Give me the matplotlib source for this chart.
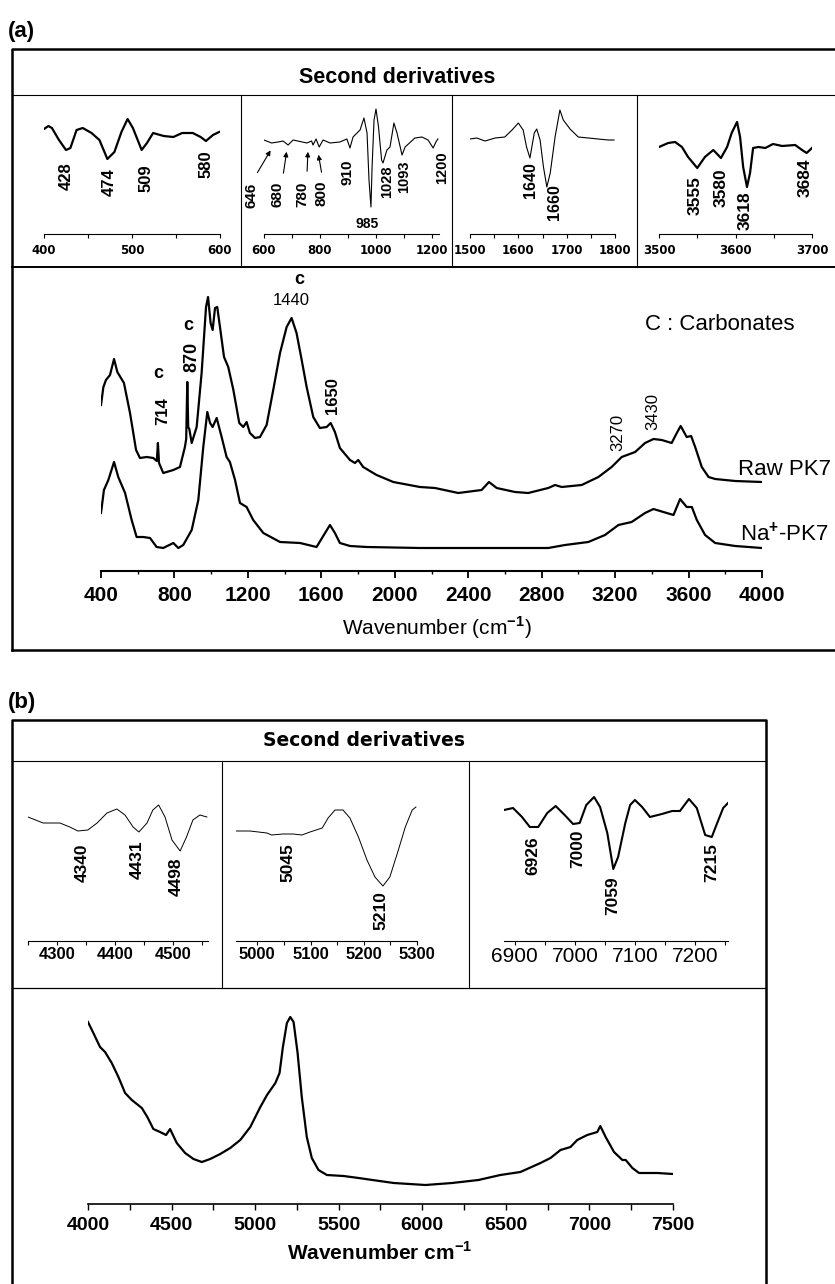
import matplotlib
matplotlib.use('Agg')
import matplotlib.pyplot as plt
from matplotlib.lines import Line2D
from matplotlib.patches import FancyArrowPatch

plt.rcParams['font.family'] = ['Liberation Sans', 'DejaVu Sans']
plt.rcParams['mathtext.fontset'] = 'custom'
plt.rcParams['mathtext.rm'] = 'Liberation Sans'
plt.rcParams['mathtext.bf'] = 'Liberation Sans:bold'

# ---------------- (a) MIR spectra (wavenumber cm-1 / absorbance a.u.)
raw_wn = [400, 413, 427, 449, 471, 489, 525, 558, 591, 612, 649, 685, 704, 710, 716, 739, 794, 830,
          857, 864, 870, 875, 881, 894, 921, 948, 972, 983, 997, 1008, 1021, 1033, 1048, 1070, 1093,
          1121, 1153, 1175, 1193, 1211, 1239, 1266, 1302, 1338, 1375, 1411, 1438, 1465, 1493, 1520,
          1556, 1592, 1629, 1651, 1674, 1701, 1756, 1783, 1801, 1828, 1901, 1992, 2137, 2219, 2346,
          2473, 2513, 2555, 2655, 2727, 2836, 2873, 2909, 3018, 3109, 3181, 3236, 3309, 3363, 3409,
          3454, 3508, 3536, 3557, 3590, 3614, 3636, 3672, 3709, 3745, 3854, 3999]
raw_abs = [1.66, 1.84, 1.91, 1.96, 2.12, 1.99, 1.88, 1.58, 1.21, 1.13, 1.14, 1.13, 1.10, 1.28, 1.08, 0.98, 1.01, 1.04,
           1.24, 1.32, 1.89, 1.44, 1.42, 1.28, 1.44, 1.98, 2.64, 2.74, 2.48, 2.41, 2.63, 2.64, 2.44, 2.14, 2.04,
           1.81, 1.48, 1.44, 1.49, 1.38, 1.33, 1.34, 1.46, 1.81, 2.18, 2.44, 2.53, 2.38, 2.11, 1.84,
           1.54, 1.43, 1.44, 1.48, 1.39, 1.23, 1.11, 1.08, 1.11, 1.04, 0.96, 0.89, 0.84, 0.83, 0.78,
           0.81, 0.89, 0.83, 0.79, 0.78, 0.83, 0.86, 0.84, 0.86, 0.94, 1.04, 1.14, 1.19, 1.28, 1.32,
           1.31, 1.28, 1.38, 1.45, 1.34, 1.35, 1.24, 1.04, 0.94, 0.92, 0.90, 0.89]

na_wn = [400, 416, 440, 471, 494, 531, 567, 594, 630, 667, 703, 739, 794, 821, 848, 894, 930, 957, 979,
         994, 1008, 1030, 1057, 1084, 1102, 1130, 1157, 1193, 1229, 1284, 1375, 1484, 1574, 1607, 1647,
         1674, 1701, 1756, 1847, 2137, 2836, 2927, 3054, 3145, 3218, 3290, 3363, 3409, 3463, 3518,
         3554, 3590, 3618, 3645, 3690, 3745, 3854, 3999]
na_abs = [0.58, 0.81, 0.91, 1.09, 0.94, 0.78, 0.51, 0.34, 0.34, 0.33, 0.24, 0.23, 0.28, 0.23, 0.26, 0.41, 0.71, 1.24, 1.59,
          1.48, 1.44, 1.53, 1.34, 1.14, 1.09, 0.91, 0.68, 0.64, 0.51, 0.38, 0.29, 0.28, 0.24, 0.34, 0.46,
          0.38, 0.28, 0.25, 0.24, 0.23, 0.23, 0.26, 0.29, 0.36, 0.46, 0.49, 0.58, 0.62, 0.59, 0.56,
          0.72, 0.64, 0.64, 0.51, 0.36, 0.28, 0.25, 0.23]

# second derivatives (a)
d1_wn = [400, 405, 409, 417, 425, 430, 437, 444, 454, 463, 472, 480, 488, 495, 501, 511, 517, 524,
         536, 547, 557, 569, 578, 584, 592, 599]
d1_val = [1.1, 1.4, 1.2, 0.0, -1.0, -0.8, 1.0, 1.2, 0.7, 0.0, -1.9, -1.2, 0.8, 2.1, 1.2, -1.0, -0.3, 0.7,
          0.4, 0.3, 0.7, 0.7, 0.3, -0.1, 0.5, 0.8]

d2_wn = [600, 627, 650, 668, 686, 704, 753, 770, 775, 786, 797, 811, 836, 871, 896, 907, 918, 943, 957,
         968, 975, 982, 986, 993, 1000, 1009, 1020, 1025, 1039, 1050, 1064, 1075, 1093, 1104, 1139,
         1164, 1186, 1204, 1214, 1221]
d2_val = [0.0, -0.3, -0.2, -0.1, -0.5, 0.0, -0.3, -0.1, -0.5, 0.1, -0.7, 0.0, -0.3, -0.2, 0.1, -0.8, 0.3, 1.0, 2.2,
          0.7, -4.0, -6.7, -2.7, 2.0, 3.1, 1.3, -2.0, -2.3, -1.0, -0.7, 1.7, 0.7, -1.5, -0.7, 0.2,
          0.3, 0.0, -0.8, -0.2, 0.1]

d3_wn = [1500, 1514, 1531, 1552, 1572, 1587, 1600, 1610, 1617, 1624, 1633, 1638, 1645, 1652, 1659, 1666,
         1676, 1686, 1693, 1707, 1724, 1745, 1765, 1786, 1798]
d3_val = [0.1, 0.2, -0.1, 0.2, 0.3, 1.0, 1.7, 1.0, -0.7, -1.8, 0.7, 1.1, 0.0, -2.7, -4.7, -3.3,
          0.3, 3.0, 2.0, 1.1, 0.3, 0.2, 0.1, 0.0, 0.0]

d4_wn = [3500, 3512, 3521, 3530, 3538, 3550, 3560, 3571, 3581, 3589, 3595, 3602, 3606, 3610, 3615, 3619,
         3623, 3630, 3639, 3649, 3661, 3678, 3687, 3693, 3700]
d4_val = [-0.7, -0.3, -0.2, -0.7, -1.7, -2.8, -1.7, -1.0, -1.8, -0.7, 0.7, 1.8, 0.3, -2.7, -4.7, -3.3,
          -0.8, -0.7, -0.8, -0.4, -0.6, -0.5, -1.0, -1.3, -0.8]

# ---------------- (b) NIR spectrum
nir_wn = [4000, 4032, 4072, 4102, 4142, 4182, 4222, 4262, 4322, 4355, 4391, 4431, 4467, 4491, 4531, 4581,
          4631, 4681, 4731, 4791, 4851, 4911, 4971, 5031, 5071, 5121, 5146, 5166, 5190, 5210, 5230,
          5254, 5279, 5309, 5339, 5379, 5429, 5529, 5619, 5702, 5829, 6019, 6178, 6336, 6467, 6587,
          6707, 6767, 6827, 6887, 6927, 6987, 7047, 7065, 7097, 7147, 7197, 7217, 7227, 7257, 7297,
          7407, 7500]
nir_abs = [1.82, 1.71, 1.57, 1.52, 1.41, 1.27, 1.11, 1.04, 0.96, 0.87, 0.75, 0.72, 0.69, 0.75, 0.61, 0.51,
           0.45, 0.42, 0.45, 0.50, 0.56, 0.64, 0.77, 0.97, 1.09, 1.21, 1.31, 1.57, 1.81, 1.87, 1.82,
           1.51, 1.07, 0.67, 0.46, 0.34, 0.29, 0.28, 0.26, 0.24, 0.21, 0.19, 0.21, 0.24, 0.29, 0.32,
           0.41, 0.46, 0.54, 0.57, 0.64, 0.69, 0.72, 0.78, 0.67, 0.52, 0.44, 0.44, 0.42, 0.36, 0.31,
           0.31, 0.30]

e1_wn = [4250, 4276, 4305, 4322, 4336, 4353, 4369, 4386, 4403, 4417, 4431, 4441, 4455, 4465, 4475, 4486,
         4498, 4512, 4523, 4534, 4546, 4558]
e1_val = [1.3, 0.7, 0.7, 0.3, -0.1, 0.0, 0.7, 1.7, 2.1, 1.5, 0.3, -0.2, 0.7, 2.0, 2.5, 1.3,
          -1.0, -2.1, -0.7, 1.0, 1.5, 1.3]

e2_wn = [4960, 4986, 5018, 5027, 5048, 5067, 5084, 5099, 5122, 5133, 5146, 5161, 5174, 5190, 5206, 5221,
         5236, 5249, 5265, 5278, 5291, 5298]
e2_val = [-0.1, -0.1, -0.3, -0.5, -0.4, -0.4, -0.5, -0.2, 0.2, 1.2, 2.0, 2.0, 1.2, -0.7, -3.0, -4.7,
          -5.6, -4.7, -2.0, 0.3, 2.0, 2.3]

e3_wn = [6882, 6897, 6912, 6925, 6939, 6954, 6968, 6983, 6997, 7008, 7019, 7032, 7042, 7054, 7064, 7072,
         7084, 7092, 7100, 7112, 7125, 7145, 7162, 7175, 7190, 7203, 7217, 7228, 7237, 7247, 7255]
e3_val = [2.0, 2.2, 1.3, 0.3, 0.3, 1.7, 2.4, 1.5, 0.6, 0.7, 2.5, 3.3, 2.3, -0.3, -3.9, -2.7,
          0.7, 2.5, 3.0, 2.3, 1.3, 1.6, 1.9, 1.9, 3.1, 2.2, -0.5, -0.7, 0.7, 2.2, 2.7]

# tick labels
a_ticks = [400, 800, 1200, 1600, 2000, 2400, 2800, 3200, 3600, 4000]
a_minor = [600, 1000, 1400, 1800, 2200, 2600, 3000, 3400, 3800]
b_ticks = [4000, 4500, 5000, 5500, 6000, 6500, 7000, 7500]
b_minor = [4250, 4750, 5250, 5750, 6250, 6750, 7250]


W, H = 835, 1284
fig = plt.figure(figsize=(W / 100, H / 100), dpi=100)


def px_ax(x0, x1, ytop, ybot):
  ax = fig.add_axes([x0 / W, 1 - ybot / H, (x1 - x0) / W, (ybot - ytop) / H])
  ax.patch.set_visible(False)
  for s in ['left', 'right', 'top']:
    ax.spines[s].set_visible(False)
  ax.set_yticks([])
  return ax


def txt(x, y, s, **kw):
  fig.text(x / W, 1 - y / H, s, **kw)


def line(xs, ys, lw):
  fig.add_artist(Line2D([x / W for x in xs], [1 - y / H for y in ys], color='black', lw=lw))


def arrow(x0, y0, x1, y1):
  fig.add_artist(FancyArrowPatch((x0 / W, 1 - y0 / H), (x1 / W, 1 - y1 / H), transform=fig.transFigure,
                                 arrowstyle='-|>', mutation_scale=7, lw=0.8, color='black'))


def ticklist(start, stop, step, every):
  t = list(range(start, stop + 1, step))
  lab = [str(v) if v % every == 0 else '' for v in t]
  return t, lab


def inset(x0, x1, ytop, ybot, wn, val, xlim, ylim, ticks, labels, lw, font, pad):
  ax = px_ax(x0, x1, ytop, ybot)
  ax.plot(wn, val, color='black', lw=lw)
  ax.set_xlim(xlim)
  ax.set_ylim(ylim)
  ax.set_xticks(ticks)
  ax.set_xticklabels(labels, **font)
  ax.tick_params(axis='x', direction='out', length=3, width=0.8, pad=pad)
  ax.spines['bottom'].set_linewidth(0.8)
  return ax


# ================= panel (a) =================
txt(8, 37, '(a)', fontsize=16, fontweight='bold', va='baseline')
line([12, 12, 840], [650, 49, 49], 1.8)
line([12, 840], [650, 650], 1.8)
line([12, 840], [95, 95], 0.8)
line([12, 840], [267, 267], 1.4)
for x in [241, 452, 637]:
  line([x, x], [95, 267], 0.8)
txt(397, 83, 'Second derivatives', fontsize=15.5, fontweight='bold', ha='center', va='baseline')

fa = dict(family='DejaVu Sans', fontweight='bold', fontsize=8.5)
t, lab = ticklist(400, 600, 50, 100)
inset(44, 220, 100, 234, d1_wn, d1_val, (400, 600), (-9.4, 4.0), t, lab, 1.6, fa, 4)
t, lab = ticklist(600, 1200, 100, 200)
inset(264, 439, 100, 234, d2_wn, d2_val, (600, 1225), (-9.4, 4.0), t, lab, 0.8, fa, 4)
t, lab = ticklist(1500, 1800, 50, 100)
inset(470, 615, 100, 234, d3_wn, d3_val, (1500, 1800), (-9.4, 4.0), t, lab, 0.8, fa, 4)
t, lab = ticklist(3500, 3700, 50, 100)
inset(659, 812, 100, 234, d4_wn, d4_val, (3500, 3700), (-9.4, 4.0), t, lab, 1.6, fa, 4)

peak_a = [('428', 66, 176, 12), ('474', 109, 182, 12), ('509', 146, 178, 12), ('580', 206, 164, 12),
          ('646', 252, 195, 11), ('680', 278, 194, 11), ('780', 302, 194, 11), ('800', 322, 193, 11),
          ('910', 348, 172, 11), ('1028', 387, 182, 10.5), ('1093', 404, 177, 10.5), ('1200', 442, 168, 10.5),
          ('1640', 530, 180, 11.5), ('1660', 554, 202, 11.5),
          ('3555', 695, 196, 12.5), ('3580', 721, 188, 12.5), ('3618', 745, 211, 12.5), ('3684', 805, 178, 12.5)]
for s, x, y, fs in peak_a:
  txt(x, y, s, rotation=90, ha='center', va='center', fontsize=fs, fontweight='bold')
txt(367, 228, '985', fontsize=10, fontweight='bold', ha='center', va='baseline')
arrow(256, 175, 272, 148)
arrow(283, 176, 287, 149)
arrow(307, 174, 308, 149)
arrow(322, 175, 318, 152)

ax = px_ax(101, 762, 270, 571)
ax.plot(raw_wn, raw_abs, color='black', lw=1.6)
ax.plot(na_wn, na_abs, color='black', lw=1.6)
ax.set_xlim(400, 4000)
ax.set_ylim(0, 3.01)
ax.set_xticks(a_ticks)
ax.set_xticklabels([str(v) for v in a_ticks], fontsize=15, fontweight='bold')
ax.set_xticks(a_minor, minor=True)
ax.tick_params(axis='x', which='major', direction='out', length=5, width=1.3, pad=6)
ax.tick_params(axis='x', which='minor', direction='out', length=2.5, width=1.0)
ax.spines['bottom'].set_linewidth(1.5)
txt(437, 635, r'Wavenumber (cm$^{\mathbf{-1}}$)', fontsize=15, ha='center', va='baseline')

for s, x, y, fs, fw in [('714', 163, 411, 12, 'bold'), ('870', 192, 357, 13, 'bold'),
                        ('1650', 333, 396, 12, 'bold'), ('3270', 618, 432, 12, 'normal'),
                        ('3430', 653, 412, 12, 'normal')]:
  txt(x, y, s, rotation=90, ha='center', va='center', fontsize=fs, fontweight=fw)
txt(291, 305, '1440', fontsize=12, ha='center', va='baseline')
for x, y in [(158, 378), (188, 330), (299, 284)]:
  txt(x, y, 'c', fontsize=13, fontweight='bold', ha='center', va='baseline')
txt(645, 330, 'C : Carbonates', fontsize=16, va='baseline')
txt(738, 475, 'Raw PK7', fontsize=16, va='baseline')
txt(740, 541, r'Na$^{\mathbf{+}}$-PK7', fontsize=16, va='baseline')

# ================= panel (b) =================
txt(8, 708, '(b)', fontsize=16, fontweight='bold', va='baseline')
line([12, 12, 766, 766], [1290, 720, 720, 1290], 1.8)
line([12, 766], [761, 761], 0.8)
line([12, 766], [988, 988], 0.9)
for x in [222, 469]:
  line([x, x], [761, 988], 0.8)
txt(364, 746, 'Second derivatives', family='DejaVu Sans', fontsize=13.5, fontweight='bold',
    ha='center', va='baseline')

fb = dict(fontweight='bold', fontsize=12)
t, lab = ticklist(4250, 4550, 50, 100)
inset(28, 208, 780, 941, e1_wn, e1_val, (4250, 4560), (-11.1, 5.0), t, lab, 0.7, fb, 1.5)
t, lab = ticklist(4950, 5300, 50, 100)
inset(236, 417, 780, 941, e2_wn, e2_val, (4960, 5300), (-11.1, 5.0), t[1:], lab[1:], 0.7, fb, 1.5)
t, lab = ticklist(6900, 7250, 50, 100)
inset(504, 728, 780, 941, e3_wn, e3_val, (6882, 7255), (-11.1, 5.0), t, lab, 1.5,
      dict(fontsize=15), 1.5)

peak_b = [('4340', 82, 863), ('4431', 137, 860), ('4498', 176, 877), ('5045', 288, 863),
          ('5210', 381, 911), ('6926', 533, 856), ('7000', 578, 849), ('7059', 613, 896),
          ('7215', 712, 863)]
for s, x, y in peak_b:
  txt(x, y, s, rotation=90, ha='center', va='center', fontsize=12.5, fontweight='bold')

ax = px_ax(88, 673, 1000, 1204)
ax.plot(nir_wn, nir_abs, color='black', lw=1.6)
ax.set_xlim(4000, 7500)
ax.set_ylim(0, 2.04)
ax.set_xticks(b_ticks)
ax.set_xticklabels([str(v) for v in b_ticks], fontsize=14, fontweight='bold')
ax.set_xticks(b_minor, minor=True)
ax.tick_params(axis='x', which='both', direction='out', length=4.3, width=1.0, pad=5)
ax.spines['bottom'].set_linewidth(1.2)
txt(380, 1260, r'Wavenumber cm$^{\mathbf{-1}}$', fontsize=15, fontweight='bold', ha='center', va='baseline')

fig.savefig('out.png', dpi=100)
